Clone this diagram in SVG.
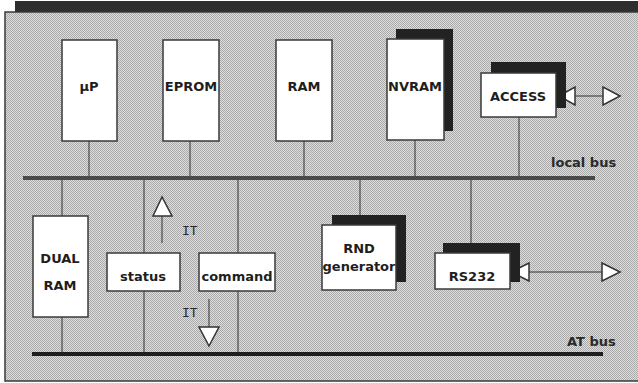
<svg xmlns="http://www.w3.org/2000/svg" width="638" height="383" viewBox="0 0 638 383">
<defs>
<pattern id="dots" width="2" height="2" patternUnits="userSpaceOnUse">
<rect width="2" height="2" fill="#dedede"/>
<rect x="0" y="0" width="1" height="1" fill="#a9a9a9"/>
<rect x="1" y="1" width="1" height="1" fill="#a9a9a9"/>
</pattern>
</defs>
<style>
.box{fill:#ffffff;stroke:#3a3a3a;stroke-width:1.5}
.shadow{fill:#222222}
.lbl{font-family:"DejaVu Sans",sans-serif;font-weight:bold;font-size:13px;fill:#1e1e1e;text-anchor:middle}
.bus{font-family:"DejaVu Sans",sans-serif;font-weight:bold;font-size:13px;fill:#2a2a2a}
.it{font-family:"DejaVu Sans Mono",monospace;font-size:13px;fill:#2a2a2a}
.wire{stroke:#333333;stroke-width:1;fill:none}
.head{fill:#ffffff;stroke:#333333;stroke-width:1.5;stroke-linejoin:miter}
</style>
<rect width="638" height="383" fill="#ffffff"/>
<rect x="15" y="1" width="623" height="11" fill="#2e2e2e"/>
<rect x="5" y="12" width="640" height="369" fill="url(#dots)" stroke="#3a3a3a" stroke-width="1.5"/>

<g id="connectors">
<line class="wire" x1="89" y1="141" x2="89" y2="178"/>
<line class="wire" x1="190" y1="141" x2="190" y2="178"/>
<line class="wire" x1="304" y1="141" x2="304" y2="178"/>
<line class="wire" x1="415" y1="140" x2="415" y2="178"/>
<line class="wire" x1="519" y1="117" x2="519" y2="178"/>
<line class="wire" x1="62" y1="178" x2="62" y2="354"/>
<line class="wire" x1="144" y1="178" x2="144" y2="354"/>
<line class="wire" x1="238" y1="178" x2="238" y2="354"/>
<line class="wire" x1="360" y1="178" x2="360" y2="215"/>
<line class="wire" x1="471" y1="178" x2="471" y2="243"/>
<line x1="23" y1="178" x2="595" y2="178" stroke="#4a4a4a" stroke-width="4"/>
<line x1="32" y1="354" x2="603" y2="354" stroke="#1e1e1e" stroke-width="4"/>
<line class="wire" x1="162" y1="243" x2="162" y2="216"/>
<polygon class="head" points="162,197 153,216 172,216"/>
<line class="wire" x1="209" y1="299" x2="209" y2="327"/>
<polygon class="head" points="209,346 199,327 219,327"/>
<line class="wire" x1="575" y1="96" x2="603" y2="96" stroke="#555555"/>
<polygon class="head" points="559,96 575,87 575,105"/>
<polygon class="head" points="620,96 603,87 603,105"/>
<line class="wire" x1="529" y1="272" x2="602" y2="272" stroke="#555555"/>
<polygon class="head" points="511,272 529,263 529,281"/>
<polygon class="head" points="620,272 602,263 602,281"/>
</g>

<g id="labels">
<text class="bus" x="551" y="167">local bus</text>
<text class="bus" x="567" y="346">AT bus</text>
<text class="it" x="182" y="235">IT</text>
<text class="it" x="182" y="317">IT</text>
</g>

<g id="uP">
<rect class="box" x="62" y="40" width="55" height="101"/>
<text class="lbl" x="89" y="91">µP</text>
</g>
<g id="EPROM">
<rect class="box" x="163" y="40" width="56" height="101"/>
<text class="lbl" x="191" y="91">EPROM</text>
</g>
<g id="RAM">
<rect class="box" x="276" y="40" width="56" height="101"/>
<text class="lbl" x="304" y="91">RAM</text>
</g>
<g id="NVRAM">
<rect class="shadow" x="396" y="29" width="57" height="102"/>
<rect class="box" x="387" y="39" width="57" height="101"/>
<text class="lbl" x="415" y="91">NVRAM</text>
</g>
<g id="ACCESS">
<rect class="shadow" x="491" y="62" width="75" height="46"/>
<rect class="box" x="481" y="73" width="75" height="44"/>
<text class="lbl" x="518" y="101">ACCESS</text>
</g>
<g id="DUALRAM">
<rect class="box" x="33" y="216" width="55" height="101"/>
<text class="lbl" x="60" y="263">DUAL</text>
<text class="lbl" x="60" y="290">RAM</text>
</g>
<g id="status">
<rect class="box" x="107" y="253" width="73" height="38"/>
<text class="lbl" x="143" y="281">status</text>
</g>
<g id="command">
<rect class="box" x="199" y="253" width="76" height="38"/>
<text class="lbl" x="237" y="281">command</text>
</g>
<g id="RND">
<rect class="shadow" x="332" y="215" width="74" height="67"/>
<rect class="box" x="322" y="225" width="74" height="65"/>
<text class="lbl" x="359" y="253">RND</text>
<text class="lbl" x="359" y="271">generator</text>
</g>
<g id="RS232">
<rect class="shadow" x="443" y="243" width="77" height="39"/>
<rect class="box" x="435" y="253" width="75" height="36"/>
<text class="lbl" x="472" y="281">RS232</text>
</g>
</svg>
